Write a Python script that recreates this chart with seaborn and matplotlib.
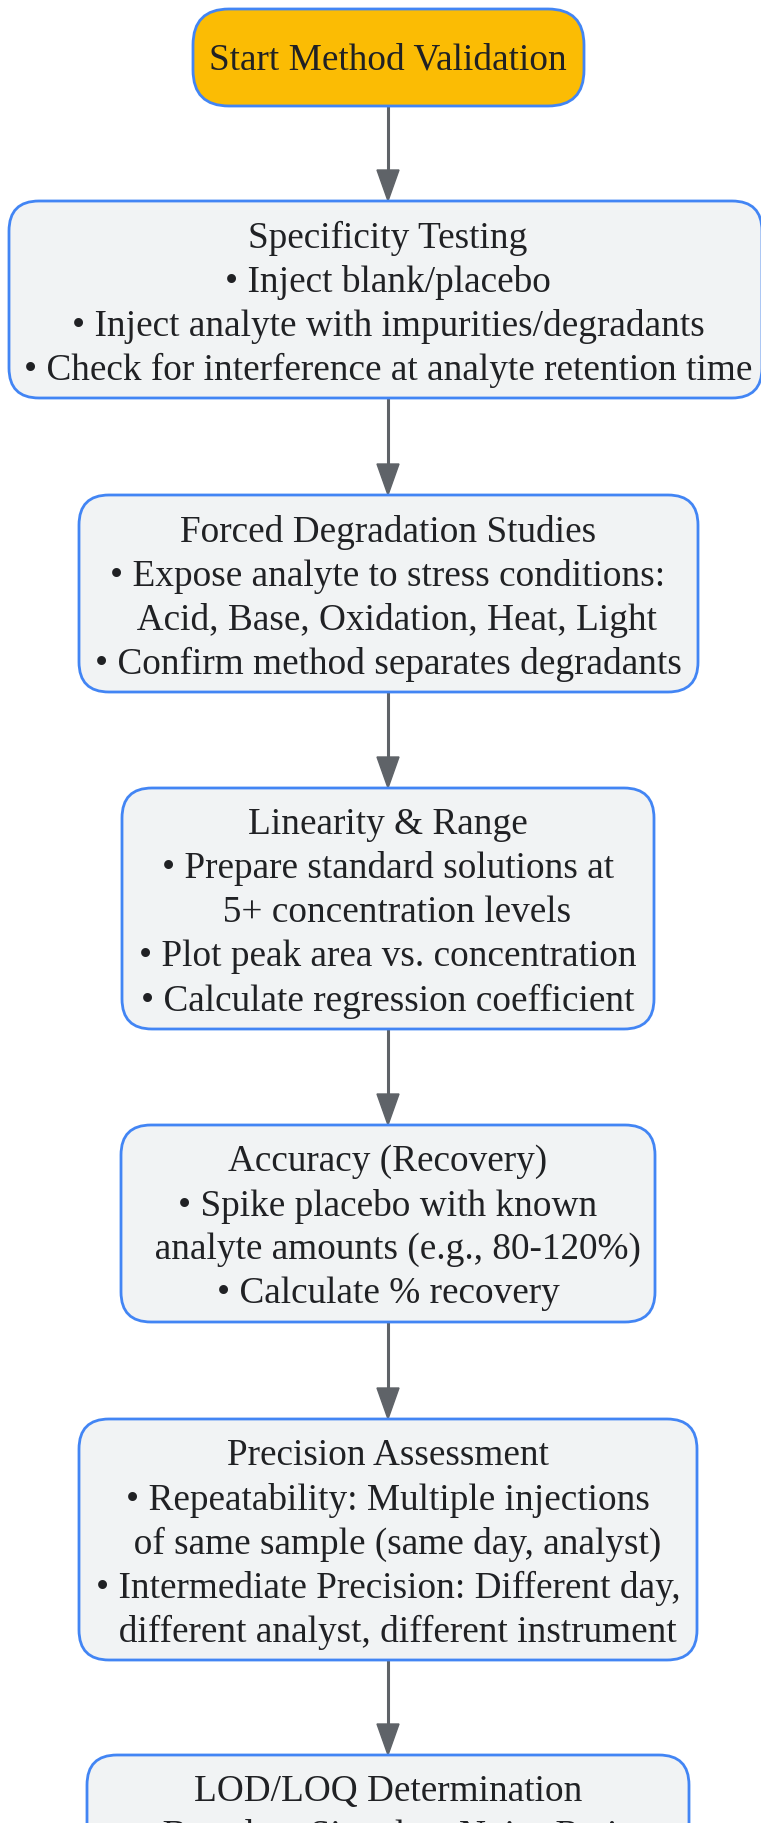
import matplotlib
matplotlib.use("Agg")
import matplotlib.pyplot as plt
import seaborn as sns
from matplotlib.patches import FancyBboxPatch

sns.set_theme(style="white")
plt.rcParams['font.family'] = ['Liberation Serif', 'DejaVu Serif']

# contenu des noeuds
start_label = "Start Method Validation"

step_titles = [
    "Specificity Testing",
    "Forced Degradation Studies",
    "Linearity & Range",
    "Accuracy (Recovery)",
    "Precision Assessment",
    "LOD/LOQ Determination",
]

step_lines = [
    ["• Inject blank/placebo",
     "• Inject analyte with impurities/degradants",
     "• Check for interference at analyte retention time"],
    ["• Expose analyte to stress conditions:",
     "  Acid, Base, Oxidation, Heat, Light",
     "• Confirm method separates degradants"],
    ["• Prepare standard solutions at",
     "  5+ concentration levels",
     "• Plot peak area vs. concentration",
     "• Calculate regression coefficient"],
    ["• Spike placebo with known",
     "  analyte amounts (e.g., 80-120%)",
     "• Calculate % recovery"],
    ["• Repeatability: Multiple injections",
     "  of same sample (same day, analyst)",
     "• Intermediate Precision: Different day,",
     "  different analyst, different instrument"],
    ["• Based on Signal-to-Noise Ratio",
     "• LOD = 3:1, LOQ = 10:1"],
]

# mise en page (pixels)
W, H = 761, 1823
box_left = [9, 79, 122, 121, 79, 87]
box_right = [762, 698, 654, 655, 697, 689]
box_top = [201, 495, 788, 1125, 1419, 1755]
line_h = 44
pad = 37
cx = 388

fill_color = "#f1f3f4"
edge_color = "#4285f4"
start_color = "#fbbc04"
arrow_color = "#5f6368"
text_color = "#202124"
fs = 26.85

fig = plt.figure(figsize=(W / 100, H / 100), dpi=100)
ax = fig.add_axes([0, 0, 1, 1])
ax.set_xlim(0, W)
ax.set_ylim(H, 0)
ax.axis('off')

# noeud de depart
start_box = (193, 9, 584, 106)
ax.add_patch(FancyBboxPatch((start_box[0], start_box[1]), start_box[2] - start_box[0],
                            start_box[3] - start_box[1],
                            boxstyle="round,pad=0,rounding_size=36",
                            fc=start_color, ec=edge_color, lw=2, zorder=2))
ax.text(cx, (start_box[1] + start_box[3]) / 2 + 3, start_label, ha='center', va='center',
        fontsize=fs, color=text_color, zorder=3)

bottoms = [start_box[3]]
for i, titre in enumerate(step_titles):
    lignes = [titre] + step_lines[i]
    top = box_top[i]
    hauteur = 65 + line_h * (len(lignes) - 1)
    ax.add_patch(FancyBboxPatch((box_left[i], top), box_right[i] - box_left[i], hauteur,
                                boxstyle="round,pad=0,rounding_size=30",
                                fc=fill_color, ec=edge_color, lw=2, zorder=2))
    for j, ligne in enumerate(lignes):
        ax.text(cx, top + pad + line_h * j, ligne, ha='center', va='center',
                fontsize=fs, color=text_color, zorder=3)
    bottoms.append(top + hauteur)

# fleches
for i in range(len(step_titles)):
    y0 = bottoms[i]
    y1 = box_top[i]
    ax.plot([cx, cx], [y0, y1 - 28], color=arrow_color, lw=2.2, zorder=1)
    ax.fill([cx - 11, cx + 11, cx], [y1 - 31, y1 - 31, y1], color=arrow_color, zorder=1)

fig.savefig("out.png", dpi=100, facecolor="white")
